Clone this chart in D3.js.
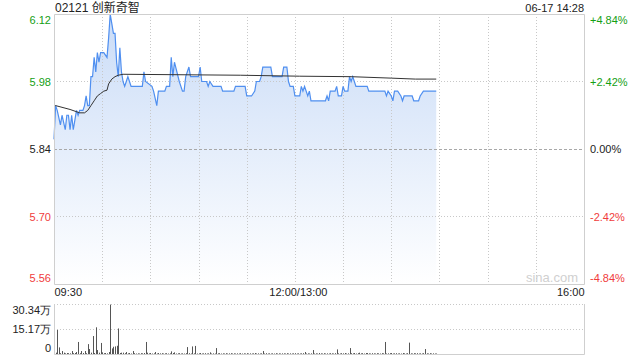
<!DOCTYPE html>
<html>
<head>
<meta charset="utf-8">
<script src="https://cdn.jsdelivr.net/npm/d3@7"></script>
<style>
  body { margin: 0; background: #fff; }
  svg { display: block; font-family: "Liberation Sans", Arial, "Noto Sans CJK SC", sans-serif; }
</style>
</head>
<body>
<svg id="chart" width="640" height="360"></svg>
<script>
// header
var stockCode = "02121", stockName = "创新奇智", stamp = "06-17 14:28";
var prevClose = 5.84;

// axes labels
var priceTicks = [6.12, 5.98, 5.84, 5.70, 5.56];
var pctLabels = ["+4.84%", "+2.42%", "0.00%", "-2.42%", "-4.84%"];
var timeTicks = [0, 150, 330];            // trading minutes since 09:30
var timeLabels = ["09:30", "12:00/13:00", "16:00"];
var volTicks = [30.34, 15.17, 0];
var volLabels = ["30.34万", "15.17万", "0"];

// price line (minute, price)
var priceMinutes = [0, 1, 2, 4, 5, 7, 8, 9, 10, 11, 12, 13, 14, 15, 16, 18, 19, 20, 21, 22,
  23, 24, 25, 26, 27, 28, 29, 31, 33, 34, 35, 36, 37, 38, 39, 40, 41, 42, 43, 44,
  45, 46, 47, 48, 49, 55, 56, 57, 61, 62, 64, 65, 69, 70, 72, 73, 74, 75, 78, 80,
  81, 82, 84, 85, 90, 91, 92, 95, 96, 97, 99, 104, 105, 112, 113, 119, 120, 123, 125, 126,
  128, 129, 130, 135, 136, 142, 143, 145, 146, 147, 149, 150, 153, 154, 155, 156, 158, 159, 160, 169,
  170, 171, 172, 175, 176, 177, 179, 180, 181, 183, 184, 185, 186, 187, 188, 195, 196, 206, 207, 208,
  210, 211, 212, 214, 216, 217, 218, 223, 224, 227, 228, 230, 238];
var prices = [5.86, 5.93, 5.92, 5.89, 5.91, 5.88, 5.91, 5.91, 5.88, 5.91, 5.88, 5.90, 5.92, 5.91, 5.92, 5.92, 5.93, 5.95, 5.93, 5.93,
  5.99, 5.99, 6.03, 6.00, 6.04, 6.02, 6.04, 6.04, 6.03, 6.07, 6.12, 6.10, 6.08, 6.08, 6.02, 5.99, 6.05, 6.00, 5.98, 5.97,
  5.98, 5.99, 5.98, 5.97, 5.97, 5.97, 6.00, 5.98, 5.97, 5.96, 5.93, 5.96, 5.96, 5.97, 5.97, 6.03, 5.99, 6.02, 5.98, 5.96,
  5.96, 5.99, 6.01, 5.99, 5.99, 6.01, 5.98, 5.98, 5.97, 5.98, 5.97, 5.97, 5.96, 5.96, 5.97, 5.97, 5.95, 5.95, 5.96, 5.98,
  5.98, 5.99, 6.01, 6.01, 5.99, 5.99, 6.01, 6.01, 5.98, 5.97, 5.97, 5.95, 5.95, 5.97, 5.96, 5.97, 5.95, 5.96, 5.94, 5.94,
  5.95, 5.94, 5.96, 5.96, 5.97, 5.95, 5.95, 5.97, 5.96, 5.96, 5.99, 5.98, 5.99, 5.98, 5.97, 5.97, 5.96, 5.96, 5.95, 5.96,
  5.95, 5.94, 5.96, 5.96, 5.95, 5.94, 5.95, 5.95, 5.94, 5.94, 5.95, 5.96, 5.96];

// average price line
var avgMinutes = [0, 1, 10, 16, 19, 21, 23, 25, 27, 29, 31, 33, 34, 36, 38, 40, 43, 116, 153, 185, 210, 225, 238];
var avgPrices = [5.93, 5.93, 5.922, 5.915, 5.915, 5.92, 5.93, 5.94, 5.95, 5.955, 5.96, 5.962, 5.975, 5.985, 5.99, 5.993, 5.995,
  5.993, 5.991, 5.99, 5.987, 5.985, 5.985];

// volume per minute, in 万 shares
var volumes = [
  0.6, 0.8, 14.6, 4.0, 0.5, 1.8, 0.8, 0.4, 0.6, 0.5,
  0.4, 1.8, 0.5, 0.6, 1.2, 7.3, 0.5, 1.8, 0.6, 1.8,
  0.5, 6.0, 3.0, 0.8, 10.9, 0.6, 16.2, 2.4, 0.8, 6.7,
  1.0, 0.5, 0.6, 0.4, 1.2, 30.0, 3.4, 4.4, 4.6, 5.0,
  15.5, 0.6, 0.8, 0.8, 0.5, 1.2, 0.4, 0.6, 0.3, 1.8,
  0.5, 0.3, 0.4, 0.3, 0.5, 0.4, 0.6, 7.3, 0.8, 0.4,
  0.6, 0.3, 0.4, 1.2, 0.3, 0.6, 0.4, 0.5, 0.3, 0.4,
  0.5, 0.3, 0.4, 1.6, 0.6, 1.0, 0.3, 0.4, 0.5, 0.3,
  0.4, 0.3, 0.5, 4.2, 0.5, 0.3, 4.6, 0.4, 4.9, 0.3,
  0.4, 0.6, 0.3, 0.4, 0.5, 0.3, 0.4, 1.0, 0.3, 0.4,
  0.3, 3.6, 0.4, 0.5, 0.3, 0.4, 0.3, 0.5, 0.3, 0.4,
  0.5, 0.3, 0.4, 0.3, 0.4, 0.3, 0.5, 0.3, 0.4, 0.3,
  0.5, 0.3, 0.4, 0.3, 0.4, 0.6, 0.3, 0.4, 0.3, 0.4,
  1.8, 0.3, 0.5, 0.3, 0.4, 0.3, 0.4, 0.3, 0.5, 0.3,
  0.4, 0.3, 0.4, 0.4, 0.3, 0.5, 0.3, 0.4, 0.3, 0.4,
  0.5, 0.3, 0.4, 0.3, 0.4, 0.5, 1.2, 0.3, 0.4, 0.3,
  0.4, 2.4, 0.3, 0.4, 0.3, 0.6, 0.4, 0.3, 0.5, 0.3,
  0.4, 0.3, 0.5, 0.4, 0.3, 0.5, 2.8, 0.4, 0.3, 0.5,
  0.4, 0.6, 0.3, 0.4, 3.6, 0.5, 0.4, 0.6, 0.3, 0.5,
  0.8, 0.4, 0.5, 0.3, 0.6, 0.6, 0.4, 0.3, 0.5, 0.4,
  0.3, 0.5, 0.4, 0.3, 0.5, 0.4, 7.3, 0.3, 0.4, 0.5,
  0.6, 0.3, 0.4, 0.5, 0.3, 0.4, 0.3, 0.6, 0.4, 0.3,
  0.5, 6.9, 0.4, 0.3, 0.5, 0.4, 0.5, 0.3, 0.4, 0.3,
  0.5, 3.0, 0.4, 0.3, 0.5, 0.3, 0.4, 0.3, 0.3];

var green = "#14a014", red = "#f03c3c", dark = "#222";

var svg = d3.select("#chart");
var plotLeft = 54, plotRight = 584, plotTop = 14, plotBottom = 284;
var volTop = 304, volBottom = 354;

var x = d3.scaleLinear().domain([0, 330]).range([plotLeft, plotRight]);
var y = d3.scaleLinear().domain([5.56, 6.12]).range([plotBottom, plotTop]);
var yv = d3.scaleLinear().domain([0, 30.34]).range([volBottom, volTop]);

function tone(p) {
    if (Math.abs(p - prevClose) < 1e-6) return dark;
    return p > prevClose ? green : red;
}
function edgeDy(d, i, n) {
    // first and last labels are pushed inside the frame
    return i === 0 ? "0.9em" : i === n - 1 ? "-0.2em" : "0.32em";
}

// gradient for the area
var grad = svg.append("defs").append("linearGradient")
    .attr("id", "fill")
    .attr("gradientUnits", "userSpaceOnUse")
    .attr("x1", 0).attr("y1", plotTop).attr("x2", 0).attr("y2", plotBottom);
grad.append("stop").attr("offset", 0).attr("stop-color", "#cadcf7");
grad.append("stop").attr("offset", 1).attr("stop-color", "#ffffff");

// area + lines
var pts = d3.zip(priceMinutes, prices);
svg.append("path")
    .datum(pts)
    .attr("fill", "url(#fill)")
    .attr("d", d3.area()
        .x(function(d) { return x(d[0]); })
        .y0(plotBottom)
        .y1(function(d) { return y(d[1]); }));

// grid
var grid = svg.append("g");
grid.selectAll("line.v")
    .data(d3.range(30, 330, 30))
    .enter().append("line")
    .attr("x1", function(d) { return Math.round(x(d)) + 0.5; })
    .attr("x2", function(d) { return Math.round(x(d)) + 0.5; })
    .attr("y1", plotTop).attr("y2", plotBottom)
    .attr("stroke", "#c8c8c8").attr("stroke-dasharray", "1,2");
grid.selectAll("line.h")
    .data(priceTicks.filter(function(d) { return d < 6.1 && d > 5.6; }))
    .enter().append("line")
    .attr("x1", plotLeft).attr("x2", plotRight)
    .attr("y1", function(d) { return Math.round(y(d)) + 0.5; })
    .attr("y2", function(d) { return Math.round(y(d)) + 0.5; })
    .attr("stroke", function(d) { return d === prevClose ? "#a8a8a8" : "#c8c8c8"; })
    .attr("stroke-dasharray", function(d) { return d === prevClose ? "3,2" : "1,2"; });

svg.append("path")
    .datum(pts)
    .attr("fill", "none")
    .attr("stroke", "#4f8ff0")
    .attr("stroke-width", 1.2)
    .attr("d", d3.line()
        .x(function(d) { return x(d[0]); })
        .y(function(d) { return y(d[1]); }));
svg.append("path")
    .datum(d3.zip(avgMinutes, avgPrices))
    .attr("fill", "none")
    .attr("stroke", "#333")
    .attr("stroke-width", 1)
    .attr("d", d3.line()
        .x(function(d) { return x(d[0]); })
        .y(function(d) { return y(d[1]); }));

// frame
svg.append("path")
    .attr("fill", "none").attr("stroke", "#cfcfcf")
    .attr("d", "M" + (plotLeft + 0.5) + "," + (plotTop + 0.5) + "H" + (plotRight + 0.5) +
        "V" + (plotBottom + 0.5) + "H" + (plotLeft + 0.5) + "Z");

// watermark
svg.append("text")
    .attr("x", 552).attr("y", 282)
    .attr("text-anchor", "middle")
    .attr("font-size", 13).attr("fill", "#d0d0d0")
    .text("sina.com");

// left price axis
var yl = svg.append("g")
    .attr("transform", "translate(" + plotLeft + ",0)")
    .call(d3.axisLeft(y).tickValues(priceTicks).tickSize(0).tickPadding(3).tickFormat(d3.format(".2f")));
yl.select(".domain").remove();
yl.selectAll("text")
    .attr("font-size", 11)
    .attr("font-family", "Liberation Sans, Arial, sans-serif")
    .attr("fill", function(d) { return tone(d); })
    .attr("dy", function(d, i) { return edgeDy(d, i, priceTicks.length); });

// right percent axis
var yr = svg.append("g")
    .attr("transform", "translate(" + plotRight + ",0)")
    .call(d3.axisRight(y).tickValues(priceTicks).tickSize(0).tickPadding(6)
        .tickFormat(function(d, i) { return pctLabels[i]; }));
yr.select(".domain").remove();
yr.selectAll("text")
    .attr("font-size", 11)
    .attr("font-family", "Liberation Sans, Arial, sans-serif")
    .attr("fill", function(d) { return tone(d); })
    .attr("dy", function(d, i) { return edgeDy(d, i, priceTicks.length); });

// time axis
var xa = svg.append("g")
    .attr("transform", "translate(0," + plotBottom + ")")
    .call(d3.axisBottom(x).tickValues(timeTicks).tickSize(0).tickPadding(4)
        .tickFormat(function(d, i) { return timeLabels[i]; }));
xa.select(".domain").remove();
xa.selectAll("text")
    .attr("font-size", 11)
    .attr("font-family", "Liberation Sans, Arial, sans-serif")
    .attr("fill", dark)
    .attr("text-anchor", function(d, i) { return i === 0 ? "start" : i === timeTicks.length - 1 ? "end" : "middle"; })
    .attr("dx", function(d, i) { return i === 1 ? 3 : 0; });

// volume grid + bars
svg.selectAll("line.vg")
    .data(volTicks.filter(function(d) { return d > 0; }))
    .enter().append("line")
    .attr("x1", plotLeft).attr("x2", plotRight)
    .attr("y1", function(d) { return Math.round(yv(d)) + 0.5; })
    .attr("y2", function(d) { return Math.round(yv(d)) + 0.5; })
    .attr("stroke", "#c8c8c8").attr("stroke-dasharray", "1,2");

svg.append("g").selectAll("rect")
    .data(volumes)
    .enter().append("rect")
    .attr("x", function(d, i) { return Math.round(x(i)); })
    .attr("y", function(d) { return yv(d); })
    .attr("width", 1)
    .attr("height", function(d) { return volBottom - yv(d); })
    .attr("fill", "#555");

svg.append("path")
    .attr("fill", "none").attr("stroke", "#cfcfcf")
    .attr("d", "M" + (plotLeft + 0.5) + "," + volTop + "V" + (volBottom + 0.5) +
        "H" + (plotRight + 0.5) + "V" + volTop);

var va = svg.append("g")
    .attr("transform", "translate(" + plotLeft + ",0)")
    .call(d3.axisLeft(yv).tickValues(volTicks).tickSize(0).tickPadding(3)
        .tickFormat(function(d, i) { return volLabels[i]; }));
va.select(".domain").remove();
va.selectAll("text")
    .attr("font-size", 11)
    .attr("fill", dark)
    .attr("dy", function(d, i) { return edgeDy(d, i, volTicks.length); });

// header
svg.append("text")
    .attr("x", plotLeft + 1).attr("y", 12)
    .attr("font-size", 12).attr("fill", dark)
    .text(stockCode + " " + stockName);
svg.append("text")
    .attr("x", plotRight).attr("y", 12)
    .attr("text-anchor", "end")
    .attr("font-size", 11).attr("fill", dark)
    .text(stamp);
</script>
</body>
</html>
